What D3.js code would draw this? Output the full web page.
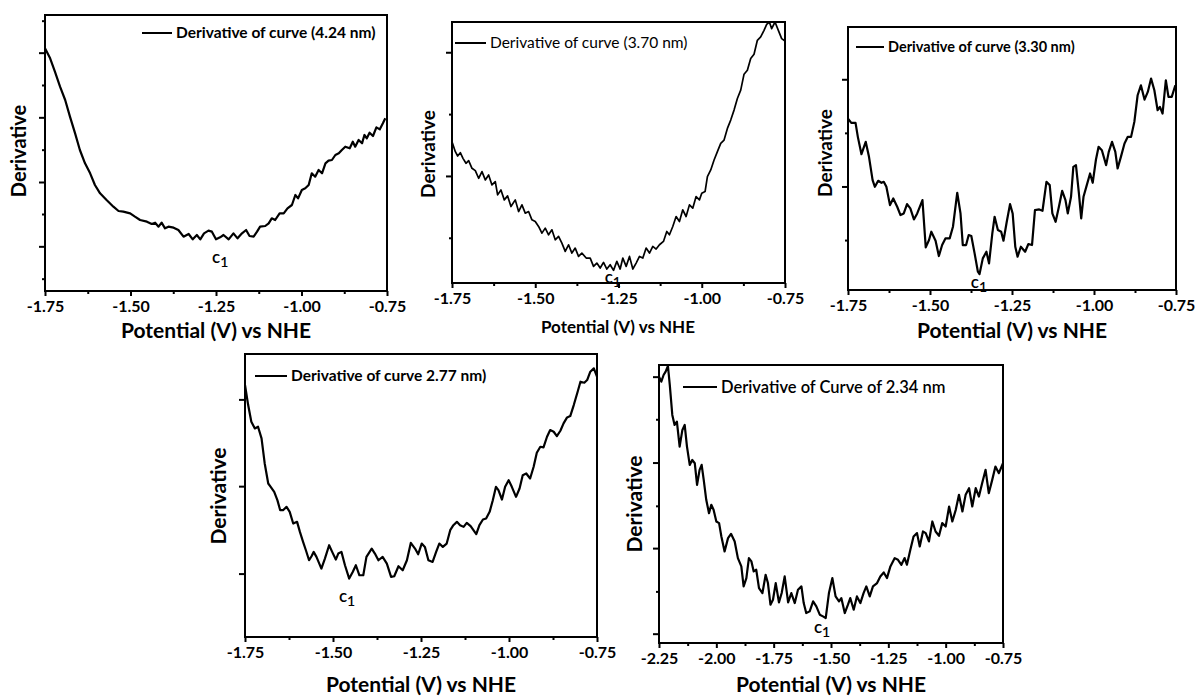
<!DOCTYPE html>
<html><head><meta charset="utf-8">
<script src="https://cdn.jsdelivr.net/npm/d3@7"></script>
<style>
body{margin:0;background:#fff;}
svg{display:block;}
text{font-family:Lato,"Open Sans",sans-serif;fill:#000;}
</style></head>
<body><svg id="c" width="1196" height="696"></svg>
<script>
// ---------- data (x: potential in V vs NHE, y: derivative, arbitrary units) ----------
const p1V=[-1.750,-1.735,-1.721,-1.706,-1.691,-1.677,-1.662,-1.648,-1.633,-1.618,-1.604,-1.589,-1.570,-1.550,-1.535,-1.521,-1.501,-1.487,-1.472,-1.452,-1.438,-1.428,-1.418,-1.409,-1.399,-1.389,-1.374,-1.360,-1.345,-1.330,-1.318,-1.306,-1.296,-1.285,-1.272,-1.262,-1.250,-1.238,-1.228,-1.213,-1.199,-1.187,-1.174,-1.162,-1.152,-1.140,-1.130,-1.121,-1.106,-1.096,-1.087,-1.077,-1.064,-1.052,-1.041,-1.028,-1.018,-1.010,-0.999,-0.989,-0.979,-0.970,-0.960,-0.950,-0.940,-0.930,-0.921,-0.911,-0.901,-0.891,-0.882,-0.872,-0.859,-0.850,-0.843,-0.833,-0.823,-0.816,-0.809,-0.801,-0.791,-0.781,-0.771,-0.762,-0.755];
const p1D=[72.8,69.8,65.8,61.3,57.3,52.3,47.3,42.3,38.3,35.3,31.8,29.3,27.3,25.3,24.0,23.8,23.3,22.3,21.3,20.8,20.1,20.5,19.3,20.5,18.8,19.3,19.0,18.3,16.3,17.1,15.5,16.8,15.5,17.3,18.1,17.8,15.5,16.1,16.8,15.5,17.3,15.8,17.3,18.3,16.5,16.3,17.8,19.3,19.5,20.3,21.8,21.3,23.3,23.3,24.8,25.8,28.8,27.8,30.3,30.8,31.8,35.3,34.3,36.3,35.3,38.3,39.1,39.3,40.8,41.3,42.3,43.3,42.8,44.8,43.3,45.3,44.3,46.8,45.8,47.5,46.5,49.1,48.5,50.3,51.8];

const p2V=[-1.750,-1.740,-1.733,-1.725,-1.717,-1.708,-1.700,-1.690,-1.680,-1.670,-1.660,-1.650,-1.640,-1.630,-1.620,-1.613,-1.603,-1.593,-1.583,-1.573,-1.560,-1.550,-1.540,-1.530,-1.520,-1.510,-1.500,-1.490,-1.480,-1.470,-1.460,-1.450,-1.440,-1.430,-1.420,-1.410,-1.400,-1.390,-1.380,-1.370,-1.360,-1.347,-1.335,-1.325,-1.315,-1.305,-1.295,-1.285,-1.275,-1.265,-1.255,-1.245,-1.237,-1.227,-1.217,-1.207,-1.197,-1.187,-1.177,-1.167,-1.157,-1.147,-1.137,-1.127,-1.115,-1.105,-1.097,-1.087,-1.077,-1.067,-1.057,-1.047,-1.037,-1.027,-1.017,-1.007,-1.000,-0.990,-0.983,-0.973,-0.963,-0.953,-0.943,-0.933,-0.923,-0.913,-0.903,-0.893,-0.883,-0.873,-0.863,-0.853,-0.843,-0.833,-0.823,-0.813,-0.805,-0.797,-0.790,-0.780,-0.770,-0.760,-0.750];
const p2D=[42.5,39.5,38.2,39.2,37.5,36.0,36.8,34.5,33.8,31.5,33.5,31.0,32.5,29.5,30.5,26.5,28.0,25.0,26.2,23.0,25.0,21.5,23.5,21.0,21.5,19.0,18.5,17.0,15.0,16.5,14.5,16.0,13.0,14.0,12.0,9.5,11.5,9.0,10.5,8.0,9.0,7.5,7.5,5.0,6.0,4.5,6.2,4.2,5.5,3.8,6.5,4.2,7.5,5.0,8.0,4.2,6.0,8.0,7.5,10.5,9.0,11.0,10.2,11.5,12.5,15.5,14.5,17.0,20.0,18.5,22.0,20.0,23.5,22.5,26.0,25.0,27.0,27.5,32.0,34.0,37.0,39.5,42.0,43.0,46.5,49.0,52.0,55.5,58.0,62.8,64.0,67.5,68.8,73.0,74.0,76.0,77.8,78.5,76.5,78.5,76.0,73.5,72.8];

const p3V=[-1.750,-1.740,-1.727,-1.720,-1.709,-1.696,-1.686,-1.675,-1.668,-1.658,-1.648,-1.641,-1.633,-1.622,-1.612,-1.600,-1.590,-1.580,-1.570,-1.560,-1.549,-1.539,-1.523,-1.513,-1.503,-1.496,-1.483,-1.473,-1.463,-1.453,-1.440,-1.430,-1.417,-1.407,-1.400,-1.390,-1.382,-1.374,-1.364,-1.354,-1.349,-1.339,-1.328,-1.320,-1.310,-1.303,-1.293,-1.283,-1.276,-1.266,-1.256,-1.248,-1.240,-1.233,-1.223,-1.210,-1.200,-1.189,-1.180,-1.167,-1.157,-1.145,-1.135,-1.127,-1.117,-1.107,-1.097,-1.087,-1.080,-1.070,-1.063,-1.055,-1.046,-1.039,-1.032,-1.022,-1.012,-1.004,-0.994,-0.986,-0.976,-0.963,-0.955,-0.945,-0.935,-0.928,-0.918,-0.907,-0.897,-0.887,-0.877,-0.867,-0.857,-0.846,-0.836,-0.826,-0.816,-0.806,-0.799,-0.791,-0.781,-0.773,-0.763,-0.752];
const p3D=[51.5,50.2,50.2,46.0,40.8,44.5,40.0,33.0,31.0,32.8,32.2,32.5,31.0,25.5,27.5,25.0,22.5,23.0,25.8,24.5,21.2,23.0,27.0,12.8,15.0,17.5,14.8,10.2,13.5,15.5,15.5,19.0,29.2,23.0,13.5,13.5,16.5,16.2,11.0,5.5,4.8,9.5,11.5,8.0,17.0,22.0,18.0,17.5,14.8,20.5,25.8,23.0,13.0,10.0,13.0,11.5,13.8,13.5,24.0,24.2,23.8,32.5,31.5,23.0,20.5,25.0,29.8,27.0,23.0,28.0,37.0,37.5,29.0,21.5,28.0,31.5,35.0,32.2,39.2,43.0,42.0,37.5,41.5,44.5,41.5,36.5,40.0,44.0,46.0,46.0,50.5,58.5,61.5,57.2,59.5,63.5,60.0,54.0,55.0,53.0,63.0,58.0,58.0,61.5];

const p4V=[-1.750,-1.741,-1.732,-1.722,-1.713,-1.703,-1.694,-1.684,-1.677,-1.667,-1.658,-1.650,-1.642,-1.632,-1.623,-1.613,-1.602,-1.594,-1.585,-1.577,-1.568,-1.561,-1.555,-1.547,-1.533,-1.523,-1.511,-1.501,-1.492,-1.485,-1.476,-1.466,-1.454,-1.444,-1.435,-1.425,-1.414,-1.405,-1.390,-1.381,-1.371,-1.359,-1.347,-1.335,-1.326,-1.314,-1.302,-1.290,-1.279,-1.267,-1.258,-1.248,-1.239,-1.229,-1.217,-1.207,-1.198,-1.188,-1.177,-1.167,-1.158,-1.148,-1.139,-1.129,-1.120,-1.109,-1.093,-1.084,-1.074,-1.065,-1.055,-1.046,-1.037,-1.030,-1.020,-1.011,-1.001,-0.992,-0.980,-0.970,-0.961,-0.951,-0.940,-0.930,-0.921,-0.911,-0.902,-0.892,-0.883,-0.873,-0.864,-0.854,-0.845,-0.835,-0.826,-0.816,-0.805,-0.797,-0.786,-0.778,-0.769,-0.759,-0.750];
const p4D=[75.5,69.5,64.5,62.5,63.0,59.5,52.0,46.0,45.0,43.5,41.0,38.0,38.0,39.0,37.5,34.0,34.5,31.5,28.5,26.0,23.0,24.2,25.5,24.0,20.5,23.5,27.5,25.2,23.2,25.0,25.5,21.5,17.5,19.5,21.5,18.5,18.5,24.0,26.5,25.0,23.0,24.0,22.0,18.0,18.2,21.2,20.0,23.0,28.2,26.5,24.8,28.0,27.0,23.0,22.5,25.5,28.0,27.0,28.0,32.0,33.5,34.5,33.5,33.0,34.2,33.2,30.8,33.5,35.2,35.5,37.5,41.0,45.0,44.0,41.2,45.0,47.0,45.0,42.0,44.5,48.5,49.0,47.5,51.0,55.2,57.0,56.8,60.0,62.0,61.5,60.2,61.8,64.0,65.8,66.2,69.5,73.5,76.5,76.2,77.0,79.5,80.5,78.0];

const p5V=[-2.250,-2.240,-2.230,-2.221,-2.211,-2.203,-2.192,-2.182,-2.172,-2.160,-2.148,-2.138,-2.128,-2.116,-2.105,-2.094,-2.084,-2.073,-2.064,-2.055,-2.044,-2.032,-2.022,-2.012,-2.000,-1.988,-1.978,-1.964,-1.949,-1.936,-1.920,-1.906,-1.891,-1.881,-1.869,-1.858,-1.847,-1.837,-1.826,-1.814,-1.799,-1.785,-1.775,-1.764,-1.753,-1.741,-1.727,-1.715,-1.702,-1.687,-1.673,-1.658,-1.644,-1.629,-1.619,-1.608,-1.593,-1.578,-1.564,-1.549,-1.535,-1.523,-1.509,-1.494,-1.480,-1.465,-1.455,-1.440,-1.426,-1.416,-1.401,-1.387,-1.372,-1.358,-1.346,-1.331,-1.317,-1.299,-1.285,-1.270,-1.256,-1.241,-1.222,-1.208,-1.193,-1.179,-1.169,-1.154,-1.140,-1.125,-1.113,-1.099,-1.087,-1.073,-1.058,-1.044,-1.029,-1.015,-1.000,-0.985,-0.971,-0.956,-0.942,-0.927,-0.913,-0.898,-0.884,-0.869,-0.855,-0.841,-0.826,-0.812,-0.797,-0.783,-0.768,-0.750];
const p5D=[80.0,78.5,80.5,81.5,83.2,77.5,68.5,65.5,66.5,59.0,64.0,65.5,59.0,53.5,55.0,54.0,47.5,52.0,53.5,49.0,43.0,39.0,41.5,40.0,36.5,36.0,32.0,27.5,31.5,32.8,30.5,25.5,23.0,17.0,19.5,25.5,24.5,21.5,22.0,16.5,15.0,20.5,18.0,11.5,13.0,18.0,12.2,15.0,20.0,12.2,15.0,12.0,16.0,17.0,12.0,9.0,9.5,12.5,11.0,8.5,8.0,7.5,15.0,19.5,14.0,12.5,13.5,9.0,11.5,13.5,10.0,14.0,12.0,15.0,17.0,14.0,17.0,18.0,20.0,21.2,19.5,23.0,25.5,25.0,23.5,25.5,23.5,28.0,32.0,33.0,29.0,33.5,33.0,30.5,36.5,33.5,32.2,36.0,35.0,41.0,36.5,40.0,44.5,39.5,44.5,46.5,41.0,46.5,44.0,48.0,52.0,45.0,49.0,53.0,51.0,54.0];

const xTicks1=[-1.75,-1.50,-1.25,-1.00,-0.75];
const xMinor1=[-1.625,-1.375,-1.125,-0.875];
const xTicks5=[-2.25,-2.00,-1.75,-1.50,-1.25,-1.00,-0.75];
const xMinor5=[-2.125,-1.875,-1.625,-1.375,-1.125,-0.875];

const legendTexts=["Derivative of curve (4.24 nm)","Derivative of curve (3.70 nm)","Derivative of curve (3.30 nm)","Derivative of curve 2.77 nm)","Derivative of Curve of 2.34 nm"];
const xTitle="Potential (V) vs NHE";
const yTitle="Derivative";
const peakLabel="c";
const peakSub="1";
// peak (c1) annotation positions in data units
const peakV=[-1.238,-1.267,-1.351,-1.460,-1.539];
const peakD=[9.9,1.6,2.1,11.9,4.6];

// ---------- layout ----------
const panels=[
 {V:p1V,D:p1D,L:45,R:387,T:15,B:291,xd:[-1.75,-0.75],yd:[0,82.8],xt:xTicks1,xm:xMinor1,
  yMaj:[13.4,32.7,52.1,71.5],yMin:[3.7,23.1,42.4,61.8,81.1],
  leg:{x1:142,x2:172,y:33,fs:15.5,fw:700},yl:{x:19,y:151,fs:20},xl:{x:216,y:338,fs:21},tl:16,sw:2.2},
 {V:p2V,D:p2D,L:452,R:785,T:22,B:283,xd:[-1.75,-0.75],yd:[0,78.5],xt:xTicks1,xm:xMinor1,
  yMaj:[32.2,69.4],yMin:[13.6,50.8],
  leg:{x1:455,x2:486,y:43,fs:15.5,fw:400},yl:{x:428,y:154,fs:19},xl:{x:618,y:333,fs:17},tl:16,sw:1.7},
 {V:p3V,D:p3D,L:848,R:1176,T:27,B:290,xd:[-1.75,-0.75],yd:[0,79],xt:xTicks1,xm:xMinor1,
  yMaj:[31.1,63.3],yMin:[15.0,47.2],
  leg:{x1:856,x2:884,y:47,fs:14.5,fw:700},yl:{x:825,y:153,fs:19},xl:{x:1012,y:338,fs:21},tl:16,sw:2.2},
 {V:p4V,D:p4D,L:245,R:597,T:354,B:637,xd:[-1.75,-0.75],yd:[0,84.8],xt:xTicks1,xm:xMinor1,
  yMaj:[19.0,45.2,71.2],yMin:[],
  leg:{x1:255,x2:287,y:376,fs:15.5,fw:700},yl:{x:219,y:496,fs:21},xl:{x:421,y:692,fs:21},tl:16,sw:2.2},
 {V:p5V,D:p5D,L:659,R:1003,T:365,B:643,xd:[-2.25,-0.75],yd:[0,83.5],xt:xTicks5,xm:xMinor5,
  yMaj:[2.8,28.5,54.2,80.0],yMin:[15.5,41.2,67.2],
  leg:{x1:683,x2:717,y:387,fs:16.5,fw:600},yl:{x:635,y:504,fs:21},xl:{x:831,y:692,fs:21},tl:16,sw:2.2}
];

const svg=d3.select("#c");
const fmt=d=>d.toFixed(2);

panels.forEach((p,i)=>{
  const x=d3.scaleLinear().domain(p.xd).range([p.L,p.R]);
  const y=d3.scaleLinear().domain(p.yd).range([p.B,p.T]);
  const g=svg.append("g");

  // x axis major
  const xa=g.append("g").attr("transform",`translate(0,${p.B})`)
    .call(d3.axisBottom(x).tickValues(p.xt).tickSize(5).tickPadding(5).tickFormat(fmt));
  xa.select(".domain").remove();
  xa.selectAll("line").attr("stroke","#000").attr("stroke-width",2);
  xa.selectAll("text").style("font-size",p.tl+"px").style("font-weight","700").attr("fill","#000");
  const xm=g.append("g").attr("transform",`translate(0,${p.B})`)
    .call(d3.axisBottom(x).tickValues(p.xm).tickSize(3).tickFormat(""));
  xm.select(".domain").remove();
  xm.selectAll("line").attr("stroke","#000").attr("stroke-width",2);

  // y axis
  const ya=g.append("g").attr("transform",`translate(${p.L},0)`)
    .call(d3.axisLeft(y).tickValues(p.yMaj).tickSize(6).tickFormat(""));
  ya.select(".domain").remove();
  ya.selectAll("line").attr("stroke","#000").attr("stroke-width",2);
  const ym=g.append("g").attr("transform",`translate(${p.L},0)`)
    .call(d3.axisLeft(y).tickValues(p.yMin).tickSize(3).tickFormat(""));
  ym.select(".domain").remove();
  ym.selectAll("line").attr("stroke","#000").attr("stroke-width",2);

  // curve
  const pts=p.V.map((v,k)=>[v,p.D[k]]);
  g.append("path").datum(pts)
    .attr("d",d3.line().x(d=>x(d[0])).y(d=>y(d[1])))
    .attr("fill","none").attr("stroke","#000").attr("stroke-width",p.sw).attr("stroke-linejoin","round");

  // frame
  g.append("rect").attr("x",p.L).attr("y",p.T).attr("width",p.R-p.L).attr("height",p.B-p.T)
    .attr("fill","none").attr("stroke","#000").attr("stroke-width",2);

  // legend
  g.append("line").attr("x1",p.leg.x1).attr("x2",p.leg.x2).attr("y1",p.leg.y).attr("y2",p.leg.y)
    .attr("stroke","#000").attr("stroke-width",2);
  g.append("text").attr("x",p.leg.x2+4).attr("y",p.leg.y).attr("dy","0.35em")
    .style("font-size",p.leg.fs+"px").style("font-weight",p.leg.fw).text(legendTexts[i]);

  // peak label
  const pl=g.append("text").attr("x",x(peakV[i])).attr("y",y(peakD[i])).attr("dy","0.3em")
    .attr("text-anchor","middle").style("font-size","17px").style("font-weight","600");
  pl.append("tspan").text(peakLabel);
  pl.append("tspan").attr("dy","4").style("font-size","14px").text(peakSub);

  // axis titles
  g.append("text").attr("x",p.xl.x).attr("y",p.xl.y).attr("text-anchor","middle")
    .style("font-size",p.xl.fs+"px").style("font-weight","700").text(xTitle);
  g.append("text").attr("transform",`translate(${p.yl.x},${p.yl.y}) rotate(-90)`)
    .attr("text-anchor","middle").attr("dy","0.35em")
    .style("font-size",p.yl.fs+"px").style("font-weight","700").text(yTitle);
});
</script></body></html>
